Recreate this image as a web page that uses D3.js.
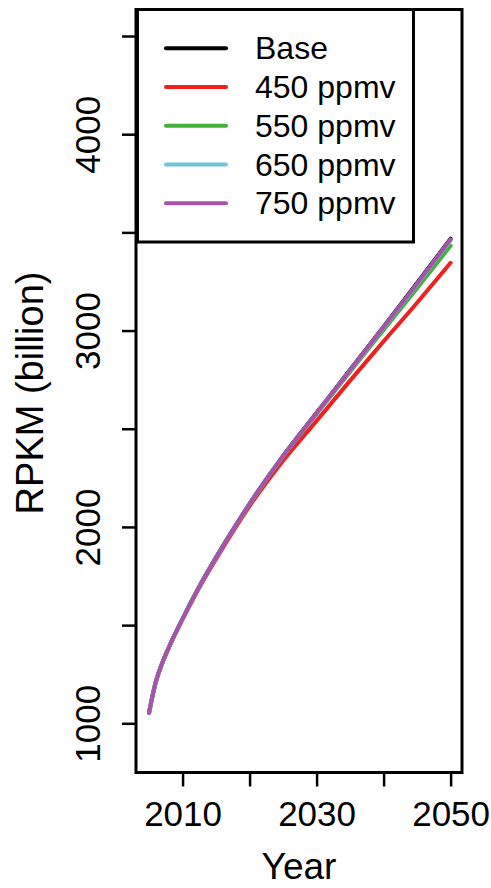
<!DOCTYPE html>
<html>
<head>
<meta charset="utf-8">
<script src="https://cdn.jsdelivr.net/npm/d3@7"></script>
<style>
  body { margin: 0; background: #fff; }
  text { font-family: "Liberation Sans", Arial, Helvetica, sans-serif; fill: #000; }
</style>
</head>
<body>
<div id="chart"></div>
<script>
// data
var years   = [2005, 2006, 2007, 2008, 2010, 2012, 2015, 2020, 2025, 2030, 2035, 2040, 2045, 2050];
var base    = [1054, 1210, 1310, 1390, 1532, 1665, 1845, 2118, 2362, 2581, 2800, 3020, 3242, 3468];
var ppmv450 = [1054, 1210, 1310, 1390, 1530, 1660, 1836, 2106, 2337, 2540, 2745, 2945, 3142, 3345];
var ppmv550 = [1054, 1210, 1310, 1390, 1532, 1665, 1845, 2117, 2360, 2575, 2790, 3003, 3216, 3432];
var ppmv650 = [1054, 1210, 1310, 1390, 1532, 1665, 1845, 2118, 2361, 2579, 2798, 3016, 3236, 3460];
var ppmv750 = [1054, 1210, 1310, 1390, 1532, 1665, 1845, 2118, 2361, 2580, 2799, 3018, 3239, 3465];

var seriesNames = ["Base", "450 ppmv", "550 ppmv", "650 ppmv", "750 ppmv"];
var seriesColors = ["#000000", "#f0201e", "#44b03c", "#6cc6d8", "#a653ab"];
var seriesValues = [base, ppmv450, ppmv550, ppmv650, ppmv750];

var xTicks = [2010, 2020, 2030, 2040, 2050];
var xLabels = [2010, 2030, 2050];
var yTicks = [1000, 1500, 2000, 2500, 3000, 3500, 4000, 4500];
var yLabels = [1000, 2000, 3000, 4000];

var svgWidth = 491;
var svgHeight = 888;
var plotLeft = 136, plotRight = 462, plotTop = 9.5, plotBottom = 772.5;

var svg = d3.select("#chart")
    .append("svg")
        .attr("width", svgWidth)
        .attr("height", svgHeight);

var x = d3.scaleLinear().domain([2003.05, 2051.7]).range([plotLeft, plotRight]);
var y = d3.scaleLinear().domain([749.5, 4635]).range([plotBottom, plotTop]);

// axes
var xAxis = svg.append("g")
    .attr("transform", "translate(0," + plotBottom + ")")
    .call(d3.axisBottom(x)
        .tickValues(xTicks)
        .tickSize(14)
        .tickFormat(function(d) { return xLabels.indexOf(d) > -1 ? d : ""; }));
xAxis.select(".domain").remove();
xAxis.selectAll(".tick line").attr("stroke", "#000").attr("stroke-width", 2.5);
xAxis.selectAll(".tick text")
    .attr("y", 53.5)
    .attr("dy", null)
    .attr("font-size", 35);

var yAxis = svg.append("g")
    .attr("transform", "translate(" + plotLeft + ",0)")
    .call(d3.axisLeft(y)
        .tickValues(yTicks)
        .tickSize(14)
        .tickFormat(function(d) { return yLabels.indexOf(d) > -1 ? d : ""; }));
yAxis.select(".domain").remove();
yAxis.selectAll(".tick line").attr("stroke", "#000").attr("stroke-width", 2.5);
yAxis.selectAll(".tick text")
    .attr("transform", "rotate(-90)")
    .attr("x", 0)
    .attr("y", -36)
    .attr("dy", null)
    .attr("text-anchor", "middle")
    .attr("font-size", 35);

// lines
var line = d3.line()
    .x(function(d, i) { return x(years[i]); })
    .y(function(d) { return y(d); })
    .curve(d3.curveMonotoneX);

svg.selectAll("path.series")
    .data(seriesValues)
    .enter()
    .append("path")
    .attr("class", "series")
    .attr("d", line)
    .attr("fill", "none")
    .attr("stroke", function(d, i) { return seriesColors[i]; })
    .attr("stroke-width", 4)
    .attr("stroke-linecap", "round")
    .attr("stroke-linejoin", "round");

// plot box
svg.append("rect")
    .attr("x", plotLeft)
    .attr("y", plotTop)
    .attr("width", plotRight - plotLeft)
    .attr("height", plotBottom - plotTop)
    .attr("fill", "none")
    .attr("stroke", "#000")
    .attr("stroke-width", 3);

// legend
var legend = svg.append("g");
legend.append("rect")
    .attr("x", 137.5)
    .attr("y", plotTop)
    .attr("width", 413.5 - 137.5)
    .attr("height", 242 - plotTop)
    .attr("fill", "#fff")
    .attr("stroke", "#000")
    .attr("stroke-width", 3);

var rowY = d3.scaleLinear().domain([0, 4]).range([48.3, 203.3]);
legend.selectAll("line.key")
    .data(seriesNames)
    .enter()
    .append("line")
    .attr("class", "key")
    .attr("x1", 166)
    .attr("x2", 226)
    .attr("y1", function(d, i) { return rowY(i); })
    .attr("y2", function(d, i) { return rowY(i); })
    .attr("stroke", function(d, i) { return seriesColors[i]; })
    .attr("stroke-width", 4)
    .attr("stroke-linecap", "round");

legend.selectAll("text.key")
    .data(seriesNames)
    .enter()
    .append("text")
    .attr("class", "key")
    .attr("x", 255)
    .attr("y", function(d, i) { return rowY(i) + 11; })
    .attr("font-size", 32)
    .text(function(d) { return d; });

// titles
svg.append("text")
    .attr("x", (plotLeft + plotRight) / 2)
    .attr("y", 879)
    .attr("text-anchor", "middle")
    .attr("font-size", 37)
    .text("Year");

svg.append("text")
    .attr("transform", "translate(43," + ((plotTop + plotBottom) / 2 + 2) + ") rotate(-90)")
    .attr("text-anchor", "middle")
    .attr("font-size", 38)
    .text("RPKM (billion)");
</script>
</body>
</html>
